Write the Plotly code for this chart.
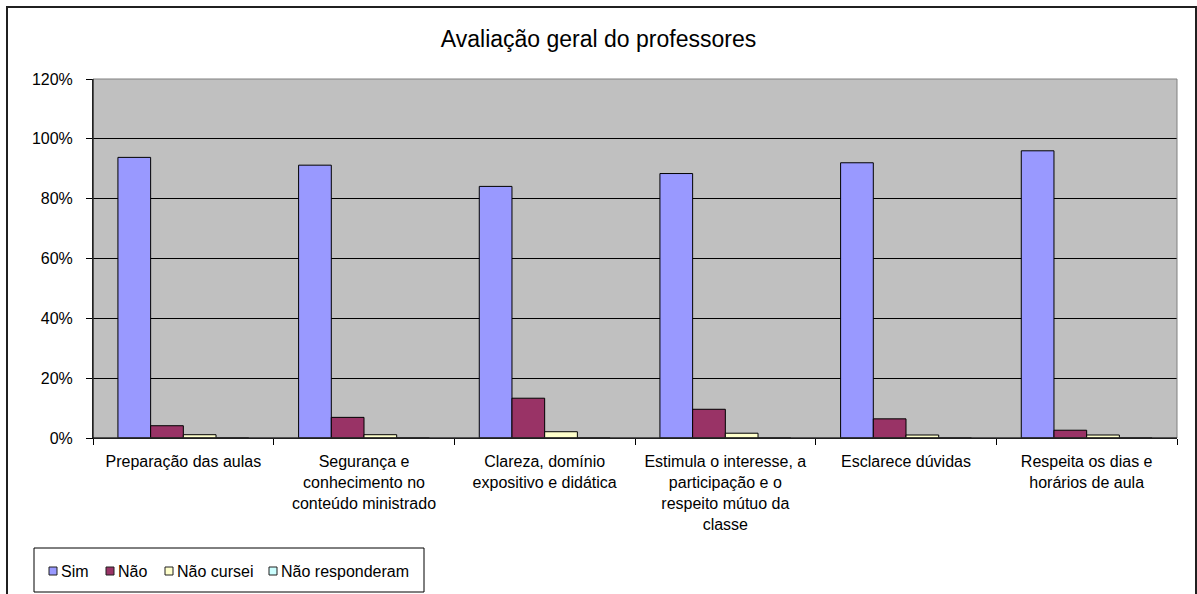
import plotly.graph_objects as go

categorias = [
    "Preparação das aulas",
    "Segurança e<br>conhecimento no<br>conteúdo ministrado",
    "Clareza, domínio<br>expositivo e didática",
    "Estimula o interesse, a<br>participação e o<br>respeito mútuo da<br>classe",
    "Esclarece dúvidas",
    "Respeita os dias e<br>horários de aula",
]

sim = [93.8, 91.2, 84.1, 88.4, 92.0, 96.0]
nao = [4.1, 6.9, 13.3, 9.6, 6.4, 2.6]
nao_cursei = [1.1, 1.1, 2.1, 1.6, 1.0, 1.0]
nao_responderam = [0, 0, 0, 0, 0, 0]

series = [
    ("Sim", sim, "#9999FF"),
    ("Não", nao, "#993366"),
    ("Não cursei", nao_cursei, "#FFFFCC"),
    ("Não responderam", nao_responderam, "#CCFFFF"),
]

W, H = 1197, 594
L, R, T, B = 93, 1177, 79, 438  # plot area in pixels


def px_x(x):
    return (x - L) / (R - L)


def px_y(y):
    return (B - y) / (B - T)


fig = go.Figure()
for name, vals, color in series:
    fig.add_trace(go.Bar(
        x=categorias, y=vals, name=name,
        marker=dict(color=color, line=dict(color="#000000", width=1)),
    ))

font = "Liberation Sans, Arial, sans-serif"

fig.update_layout(
    width=W, height=H,
    margin=dict(l=L, r=W - R, t=T, b=H - B),
    paper_bgcolor="white",
    plot_bgcolor="#C0C0C0",
    barmode="group",
    bargap=0.276,
    bargroupgap=0,
    font=dict(family=font, size=16, color="black"),
    title=dict(text="Avaliação geral do professores", x=0.5, xanchor="center",
               y=1 - 39 / H, yanchor="middle",
               font=dict(family=font, size=23, color="black")),
    showlegend=False,
)

fig.update_yaxes(
    range=[0, 120], dtick=20, ticksuffix="%",
    showgrid=True, gridcolor="black", gridwidth=1,
    showline=True, linecolor="black", linewidth=1,
    ticks="outside", ticklen=6, tickcolor="black", ticklabelstandoff=10,
    zeroline=False, fixedrange=True,
)
fig.update_xaxes(
    showline=True, linecolor="black", linewidth=1,
    ticks="outside", ticklen=6, tickcolor="black", tickson="boundaries",
    ticklabelstandoff=9,
    showgrid=False, tickangle=0, fixedrange=True,
)

# plot-area border (grey) and chart border
fig.add_shape(type="rect", xref="paper", yref="paper", x0=0, x1=1, y0=0, y1=1,
              line=dict(color="#808080", width=1), layer="above")
fig.add_shape(type="line", xref="paper", yref="paper", x0=0, x1=0, y0=0, y1=1,
              line=dict(color="black", width=1), layer="above")
fig.add_shape(type="line", xref="paper", yref="paper", x0=0, x1=1, y0=0, y1=0,
              line=dict(color="black", width=1), layer="above")
fig.add_shape(type="rect", xref="paper", yref="paper",
              x0=px_x(7), x1=px_x(1196), y0=px_y(640), y1=px_y(7),
              line=dict(color="#202020", width=2))

# legend box, drawn by hand to match the compact spreadsheet legend
fig.add_shape(type="rect", xref="paper", yref="paper",
              x0=px_x(34), x1=px_x(424), y0=px_y(592), y1=px_y(548),
              line=dict(color="black", width=1))
legend_x = [49, 106, 165, 269]
for (name, _, color), lx in zip(series, legend_x):
    fig.add_shape(type="rect", xref="paper", yref="paper",
                  x0=px_x(lx), x1=px_x(lx + 8), y0=px_y(575), y1=px_y(567),
                  fillcolor=color, line=dict(color="#202020", width=1))
    fig.add_annotation(text=name, xref="paper", yref="paper",
                       x=px_x(lx + 10), y=px_y(571), xanchor="left", yanchor="middle",
                       showarrow=False, font=dict(size=16, color="black"))

fig.write_html("out.html", config={"displayModeBar": False},
               post_script="document.body.style.margin='0';")
